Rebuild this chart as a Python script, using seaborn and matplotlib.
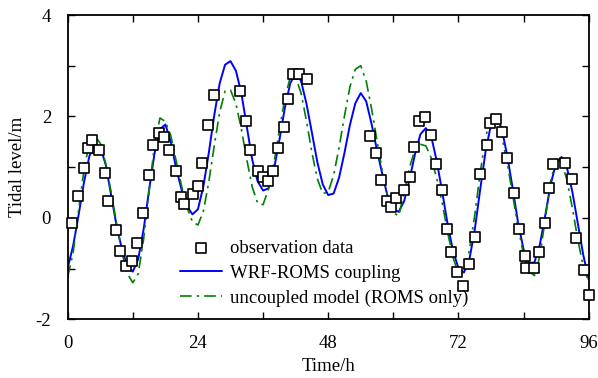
import numpy as np
import pandas as pd
import matplotlib
matplotlib.use("Agg")
import matplotlib.pyplot as plt
import seaborn as sns

# ---------------- data ----------------
hours = np.arange(0, 97)

coupled = [
    -0.99, -0.55, 0.05, 0.70, 1.22, 1.43, 1.40, 1.05, 0.45, -0.15,
    -0.62, -0.95, -1.06, -0.81, -0.22, 0.55, 1.27, 1.75, 1.84, 1.50,
    0.97, 0.55, 0.22, 0.07, 0.17, 0.62, 1.28, 2.02, 2.65, 3.02,
    3.09, 2.90, 2.46, 1.80, 1.15, 0.72, 0.54, 0.58, 0.95, 1.53,
    2.16, 2.65, 2.86, 2.70, 2.25, 1.68, 1.10, 0.66, 0.45, 0.48,
    0.79, 1.28, 1.83, 2.26, 2.46, 2.30, 1.85, 1.33, 0.85, 0.40,
    0.17, 0.12, 0.33, 0.76, 1.26, 1.65, 1.77, 1.60, 1.12, 0.52,
    -0.12, -0.65, -0.99, -1.08, -0.83, -0.24, 0.55, 1.31, 1.84, 2.01,
    1.75, 1.22, 0.58, -0.10, -0.62, -0.89, -0.88, -0.53, 0.05, 0.66,
    1.09, 1.20, 0.99, 0.51, -0.11, -0.73, -1.21,
]

uncoupled = [
    -1.16, -0.69, 0.15, 0.95, 1.48, 1.62, 1.47, 1.07, 0.51, -0.11,
    -0.69, -1.10, -1.28, -1.10, -0.41, 0.54, 1.43, 1.97, 1.90, 1.62,
    1.12, 0.62, 0.20, -0.08, -0.14, 0.13, 0.71, 1.42, 2.08, 2.50,
    2.52, 2.25, 1.75, 1.15, 0.61, 0.29, 0.26, 0.57, 1.08, 1.72,
    2.35, 2.77, 2.78, 2.46, 1.91, 1.29, 0.77, 0.48, 0.51, 0.84,
    1.38, 2.01, 2.58, 2.93, 3.00, 2.70, 2.15, 1.52, 0.90, 0.40,
    0.10, 0.04, 0.50, 1.00, 1.35, 1.45, 1.42, 1.18, 0.78, 0.30,
    -0.28, -0.78, -1.10, -1.02, -0.65, 0.05, 0.88, 1.58, 2.00, 1.94,
    1.61, 1.08, 0.45, -0.19, -0.72, -1.05, -1.14, -0.76, -0.02, 0.73,
    1.15, 1.10, 0.75, 0.19, -0.43, -0.96, -1.26,
]

obs_time = [
    0.8, 1.9, 3.0, 3.7, 4.4, 5.8, 6.9, 7.5, 8.9, 9.6,
    10.7, 11.8, 12.8, 13.9, 15.0, 15.7, 16.9, 17.8, 18.7, 19.9,
    20.9, 21.5, 23.0, 24.0, 24.8, 25.8, 26.9, 31.8, 32.9, 33.6,
    35.0, 36.0, 37.0, 37.8, 38.8, 39.9, 40.6, 41.6, 42.7, 44.1,
    55.7, 56.8, 57.8, 58.8, 59.5, 60.5, 62.0, 63.0, 63.8, 64.8,
    65.9, 67.0, 67.9, 69.0, 69.9, 70.6, 71.8, 72.8, 74.0, 75.0,
    76.0, 77.2, 77.9, 79.0, 80.0, 81.0, 82.2, 83.1, 84.2, 84.5,
    86.0, 86.9, 88.0, 88.7, 89.5, 91.6, 93.0, 93.7, 95.1, 96.1,
]
obs_level = [
    -0.10, 0.43, 0.98, 1.38, 1.53, 1.34, 0.88, 0.33, -0.23, -0.65,
    -0.95, -0.86, -0.49, 0.10, 0.84, 1.44, 1.68, 1.60, 1.34, 0.93,
    0.42, 0.27, 0.47, 0.63, 1.08, 1.84, 2.42, 2.51, 1.91, 1.34,
    0.93, 0.81, 0.72, 0.93, 1.38, 1.79, 2.34, 2.84, 2.84, 2.73,
    1.62, 1.27, 0.75, 0.33, 0.22, 0.40, 0.54, 0.80, 1.39, 1.91,
    1.98, 1.63, 1.06, 0.55, -0.21, -0.67, -1.07, -1.34, -0.91, -0.37,
    0.87, 1.44, 1.88, 1.95, 1.69, 1.19, 0.49, -0.21, -0.75, -0.98,
    -0.98, -0.68, -0.11, 0.58, 1.06, 1.08, 0.77, -0.40, -1.03, -1.53,
]

x_major = [0, 24, 48, 72, 96]
x_minor = [12, 36, 60, 84]
y_major = [-2, 0, 2, 4]
y_minor = [-1, 1, 3]

label_obs = "observation data"
label_cpl = "WRF-ROMS coupling"
label_unc = "uncoupled model (ROMS only)"

FS = 13.5

# ---------------- style ----------------
sns.set_theme(style="ticks")
plt.rcParams["font.family"] = ["Liberation Serif", "DejaVu Serif"]
plt.rcParams["axes.unicode_minus"] = False
plt.rcParams["text.color"] = "black"
plt.rcParams["axes.labelcolor"] = "black"
plt.rcParams["xtick.color"] = "black"
plt.rcParams["ytick.color"] = "black"
plt.rcParams["axes.edgecolor"] = "black"

fig = plt.figure(figsize=(5.98, 3.78), dpi=100)
ax = fig.add_axes([0.1132, 0.1553, 0.8712, 0.8050])

df_model = pd.DataFrame({"t": hours, "cpl": coupled, "unc": uncoupled})
df_obs = pd.DataFrame({"t": obs_time, "v": obs_level})

sns.lineplot(data=df_model, x="t", y="cpl", ax=ax, color="#0000ff",
             linewidth=1.4, label=label_cpl, zorder=2)
sns.lineplot(data=df_model, x="t", y="unc", ax=ax, color="#008000",
             linewidth=1.2, linestyle=(0, (7, 3, 1.5, 3)), label=label_unc,
             zorder=2)
sns.scatterplot(data=df_obs, x="t", y="v", ax=ax, marker="s", s=42,
                facecolor="white", edgecolor="black", linewidth=1.2,
                label=label_obs, zorder=3, clip_on=False)

ax.set_xlim(0, 96)
ax.set_ylim(-2, 4)
ax.set_xticks(x_major)
ax.set_xticks(x_minor, minor=True)
ax.set_yticks(y_major)
ax.set_yticks(y_minor, minor=True)
ax.tick_params(which="both", direction="in", top=True, right=True,
               length=5, width=1.0, labelsize=FS)
ax.tick_params(axis="x", which="both", pad=11.5)
ax.tick_params(axis="y", which="both", pad=12)
for s in ax.spines.values():
    s.set_linewidth(1.3)
    s.set_visible(True)

ax.set_xlabel("Time/h", fontsize=FS, labelpad=4)
ax.set_ylabel("Tidal level/m", fontsize=FS, labelpad=7)

handles, labels = ax.get_legend_handles_labels()
order = [labels.index(label_obs), labels.index(label_cpl), labels.index(label_unc)]
ax.legend([handles[i] for i in order], [labels[i] for i in order],
          loc="lower left", bbox_to_anchor=(0.2155, 0.042), frameon=False,
          fontsize=FS, handlelength=2.24, handletextpad=0.43,
          labelspacing=0.40, borderpad=0, borderaxespad=0)

fig.savefig("out.png", dpi=100)
